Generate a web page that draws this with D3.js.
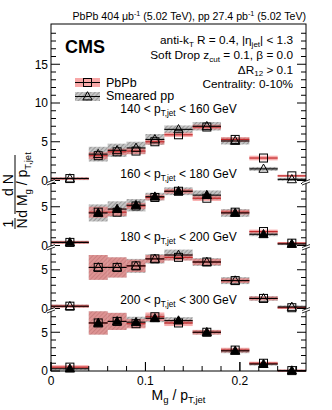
<!DOCTYPE html>
<html>
<head>
<meta charset="utf-8">
<script src="https://cdn.jsdelivr.net/npm/d3@7"></script>
<style>
  html, body { margin: 0; padding: 0; background: #fff; }
  svg { display: block; font-family: "Liberation Sans", Arial, Helvetica, sans-serif; }
  text { white-space: pre; }
</style>
</head>
<body>
<svg id="chart" width="332" height="410"></svg>
<script>
// --- data ---
const binEdges = [0, 0.04, 0.06, 0.08, 0.10, 0.12, 0.15, 0.18, 0.21, 0.24, 0.27];
const ptBins = [[140, 160], [160, 180], [180, 200], [200, 300]];

const pbpb140 = [0.25, 3.2, 3.7, 3.8, 5.0, 5.9, 6.9, 5.3, 2.9, 0.6];
const pp140   = [0.25, 3.4, 3.9, 4.2, 5.3, 6.6, 7.0, 5.1, 1.5, 0.15];
const pbpb160 = [0.4, 4.3, 4.3, 5.1, 6.2, 7.0, 6.1, 4.3, 1.8, 0.3];
const pp160   = [0.4, 4.2, 4.7, 5.2, 6.3, 7.0, 6.5, 4.2, 1.45, 0.2];
const pbpb180 = [0.3, 5.3, 5.3, 5.5, 6.4, 6.6, 6.0, 3.6, 1.3, 0.1];
const pp180   = [0.3, 5.3, 5.3, 5.5, 6.4, 6.9, 6.0, 3.6, 1.3, 0.2];
const pbpb200 = [0.5, 6.2, 6.4, 6.1, 7.0, 6.2, 5.0, 2.7, 1.0, 0.05];
const pp200   = [0.3, 6.2, 6.4, 6.3, 6.8, 6.5, 5.0, 2.6, 0.9, 0.05];

// systematic half heights
const pbpbSys140 = [0.15, 0.45, 0.4, 0.4, 0.35, 0.28, 0.3, 0.3, 0.3, 0.15];
const ppSys140   = [0.2, 0.95, 0.85, 0.8, 0.7, 0.5, 0.55, 0.45, 0.25, 0.2];
const pbpbSys160 = [0.2, 0.7, 0.5, 0.4, 0.35, 0.3, 0.35, 0.3, 0.25, 0.15];
const ppSys160   = [0.2, 1.1, 1.0, 0.8, 0.5, 0.5, 0.6, 0.5, 0.25, 0.15];
const pbpbSys180 = [0.2, 1.6, 1.3, 0.8, 0.5, 0.4, 0.4, 0.3, 0.25, 0.15];
const ppSys180   = [0.2, 1.6, 1.3, 0.9, 0.6, 0.7, 0.5, 0.45, 0.3, 0.2];
const pbpbSys200 = [0.25, 1.5, 1.1, 0.6, 0.55, 0.4, 0.3, 0.3, 0.2, 0.15];
const ppSys200   = [0.2, 1.5, 1.1, 0.7, 0.5, 0.45, 0.3, 0.3, 0.2, 0.15];

const xTicks = [0, 0.1, 0.2];

const panels = [
  { pt: ptBins[0], pbpb: pbpb140, pp: pp140, pbpbSys: pbpbSys140, ppSys: ppSys140, filled: false },
  { pt: ptBins[1], pbpb: pbpb160, pp: pp160, pbpbSys: pbpbSys160, ppSys: ppSys160, filled: true },
  { pt: ptBins[2], pbpb: pbpb180, pp: pp180, pbpbSys: pbpbSys180, ppSys: ppSys180, filled: false },
  { pt: ptBins[3], pbpb: pbpb200, pp: pp200, pbpbSys: pbpbSys200, ppSys: ppSys200, filled: true }
];

// --- layout ---
const plotLeft = 51, plotRight = 306, frameTop = 24;
const zeros = [180.5, 245.5, 308.5, 371];   // pixel row of each panel's 0
const pxPerUnit = 7.75;
const red = "#f36c6c", redLine = "#c0282a";

const svg = d3.select("#chart");
const x = d3.scaleLinear().domain([0, 0.27]).range([plotLeft, plotRight]);

// hatch for smeared pp
const defs = svg.append("defs");
const pat = defs.append("pattern").attr("id", "hatch").attr("patternUnits", "userSpaceOnUse")
  .attr("width", 3).attr("height", 3).attr("patternTransform", "rotate(45)");
pat.append("rect").attr("width", 3).attr("height", 3).attr("fill", "#b0b0b0");
pat.append("line").attr("x1", 0).attr("y1", 0).attr("x2", 0).attr("y2", 3)
  .attr("stroke", "#505050").attr("stroke-width", 1.2);

// text with sub/superscripts
function richText(g, px, py, parts, size, anchor) {
  const t = g.append("text").attr("x", px).attr("y", py)
    .attr("font-size", size).attr("text-anchor", anchor || "start");
  let shift = 0;
  parts.forEach(p => {
    let s = 0, txt = p, fs = size;
    if (typeof p === "object") {
      if (p.sub !== undefined) { txt = p.sub; s = 0.25 * size; }
      else { txt = p.sup; s = -0.4 * size; }
      fs = size * 0.68;
    }
    t.append("tspan").attr("dy", s - shift).attr("font-size", fs).text(txt);
    shift = s;
  });
  return t;
}

const trianglePath = "M0,-4.8L4.6,3.4L-4.6,3.4Z";

const plot = svg.append("g");

panels.forEach((p, i) => {
  const zero = zeros[i];
  const panelTop = i === 0 ? frameTop : zeros[i - 1];
  const y = d3.scaleLinear().domain([0, 1]).range([zero, zero - pxPerUnit]);
  const bins = d3.range(binEdges.length - 1).map(k => ({
    x0: binEdges[k], x1: binEdges[k + 1],
    pb: p.pbpb[k], pp: p.pp[k], pbS: p.pbpbSys[k], ppS: p.ppSys[k]
  }));
  const g = plot.append("g");

  // pp systematics (hatched)
  g.selectAll(".ppsys").data(bins).enter().append("rect")
    .attr("x", d => x(d.x0)).attr("width", d => x(d.x1) - x(d.x0))
    .attr("y", d => y(d.pp + d.ppS)).attr("height", d => y(d.pp - d.ppS) - y(d.pp + d.ppS))
    .attr("fill", "url(#hatch)").attr("opacity", 0.75);
  // PbPb systematics
  g.selectAll(".pbsys").data(bins).enter().append("rect")
    .attr("x", d => x(d.x0)).attr("width", d => x(d.x1) - x(d.x0))
    .attr("y", d => y(d.pb + d.pbS)).attr("height", d => y(d.pb - d.pbS) - y(d.pb + d.pbS))
    .attr("fill", red).attr("opacity", 0.55);

  // horizontal bin-width bars
  g.selectAll(".pbline").data(bins).enter().append("line")
    .attr("x1", d => x(d.x0)).attr("x2", d => x(d.x1))
    .attr("y1", d => y(d.pb)).attr("y2", d => y(d.pb))
    .attr("stroke", redLine).attr("stroke-width", 1.2);
  g.selectAll(".ppline").data(bins).enter().append("line")
    .attr("x1", d => x(d.x0)).attr("x2", d => x(d.x1))
    .attr("y1", d => y(d.pp)).attr("y2", d => y(d.pp))
    .attr("stroke", "#000").attr("stroke-width", 1.1);

  // markers
  bins.forEach(d => {
    const cx = x((d.x0 + d.x1) / 2);
    g.append("rect").attr("x", cx - 4).attr("y", y(d.pb) - 4).attr("width", 8).attr("height", 8)
      .attr("fill", "none").attr("stroke", "#000").attr("stroke-width", 1);
    g.append("path").attr("d", trianglePath).attr("transform", `translate(${cx},${y(d.pp)})`)
      .attr("fill", p.filled ? "#000" : "none").attr("stroke", "#000").attr("stroke-width", 1);
  });

  // y ticks on both sides
  const maxV = (zero - panelTop) / pxPerUnit;
  const ticks = d3.range(0, Math.floor(maxV - 0.3) + 1);
  ticks.forEach(v => {
    const major = v % 5 === 0;
    const len = major ? 9 : 5;
    plot.append("line").attr("x1", plotLeft).attr("x2", plotLeft + len).attr("y1", y(v)).attr("y2", y(v))
      .attr("stroke", "#000").attr("stroke-width", 1);
    plot.append("line").attr("x1", plotRight).attr("x2", plotRight - len).attr("y1", y(v)).attr("y2", y(v))
      .attr("stroke", "#000").attr("stroke-width", 1);
    if (major) {
      plot.append("text").attr("x", plotLeft - 3).attr("y", y(v) + 4.3)
        .attr("text-anchor", "end").attr("font-size", 12).text(v);
    }
  });

  // pT label
  richText(plot, 178.5, zero - 67.5,
    [`${p.pt[0]} < p`, { sub: "T,jet" }, ` < ${p.pt[1]} GeV`], 12, "middle");
});

// frame
plot.append("rect").attr("x", plotLeft).attr("y", frameTop)
  .attr("width", plotRight - plotLeft).attr("height", zeros[3] - frameTop)
  .attr("fill", "none").attr("stroke", "#000").attr("stroke-width", 1);

// axis break marks at panel joins
zeros.slice(0, 3).forEach(z => {
  [plotLeft, plotRight].forEach(ax => {
    plot.append("path").attr("d", `M${ax - 4},${z + 2}L${ax + 4},${z - 1}L${ax + 4},${z + 1.5}L${ax - 4},${z + 4.5}Z`)
      .attr("fill", "#fff");
    plot.append("line").attr("x1", ax - 4).attr("y1", z + 2).attr("x2", ax + 4).attr("y2", z - 1)
      .attr("stroke", "#000").attr("stroke-width", 0.8);
    plot.append("line").attr("x1", ax - 4).attr("y1", z + 4.5).attr("x2", ax + 4).attr("y2", z + 1.5)
      .attr("stroke", "#000").attr("stroke-width", 0.8);
  });
});

// x axis ticks
const xAxis = plot.append("g");
d3.range(0, 0.2701, 0.02).concat(xTicks).forEach(v => {
  const major = xTicks.some(t => Math.abs(t - v) < 1e-6);
  const len = major ? 9 : 5;
  xAxis.append("line").attr("x1", x(v)).attr("x2", x(v)).attr("y1", zeros[3]).attr("y2", zeros[3] - len)
    .attr("stroke", "#000").attr("stroke-width", 1);
});
xTicks.forEach(v => {
  xAxis.append("text").attr("x", x(v)).attr("y", 384.5).attr("text-anchor", "middle")
    .attr("font-size", 12).text(v === 0 ? "0" : d3.format(".1f")(v));
});

// axis titles
richText(svg, 178.5, 399.5, ["M", { sub: "g" }, " / p", { sub: "T,jet" }], 14, "middle");

const yt = svg.append("g").attr("transform", "translate(15,0) rotate(-90)");
yt.append("line").attr("x1", -229).attr("x2", -218).attr("y1", 0).attr("y2", 0).attr("stroke", "#000");
yt.append("text").attr("x", -223.5).attr("y", -2).attr("text-anchor", "middle").attr("font-size", 14).text("1");
yt.append("text").attr("x", -223.5).attr("y", 12).attr("text-anchor", "middle").attr("font-size", 14).text("N");
yt.append("line").attr("x1", -214).attr("x2", -155).attr("y1", 0).attr("y2", 0).attr("stroke", "#000");
yt.append("text").attr("x", -185).attr("y", -2).attr("text-anchor", "middle").attr("font-size", 14).text("d N");
richText(yt, -185, 12, ["d M", { sub: "g" }, " / p", { sub: "T,jet" }], 14, "middle");

// header and labels
richText(svg, plotRight, 20, ["PbPb 404 \u03bcb", { sup: "-1" }, " (5.02 TeV), pp 27.4 pb", { sup: "-1" }, " (5.02 TeV)"], 10.6, "end");
svg.append("text").attr("x", 65).attr("y", 52.5).attr("font-size", 18).attr("font-weight", "bold").text("CMS");
richText(svg, 293, 44, ["anti-k", { sub: "T" }, " R = 0.4, |\u03b7", { sub: "jet" }, "| < 1.3"], 11.8, "end");
richText(svg, 293, 59, ["Soft Drop z", { sub: "cut" }, " = 0.1, \u03b2 = 0.0"], 11.8, "end");
richText(svg, 293, 73.5, ["\u0394R", { sub: "12" }, " > 0.1"], 11.8, "end");
richText(svg, 293, 88, ["Centrality: 0-10%"], 11.8, "end");

// legend
const leg = svg.append("g");
leg.append("rect").attr("x", 75).attr("y", 78).attr("width", 25).attr("height", 9).attr("fill", red).attr("opacity", 0.6);
leg.append("line").attr("x1", 75).attr("x2", 100).attr("y1", 82.5).attr("y2", 82.5).attr("stroke", "#000");
leg.append("rect").attr("x", 83.5).attr("y", 78.5).attr("width", 8).attr("height", 8)
  .attr("fill", "none").attr("stroke", "#000");
leg.append("text").attr("x", 106).attr("y", 87).attr("font-size", 12.5).text("PbPb");
leg.append("rect").attr("x", 75).attr("y", 92).attr("width", 25).attr("height", 9).attr("fill", "url(#hatch)").attr("opacity", 0.75);
leg.append("line").attr("x1", 75).attr("x2", 100).attr("y1", 96.5).attr("y2", 96.5).attr("stroke", "#000");
leg.append("path").attr("d", trianglePath).attr("transform", "translate(87.5,96.5)")
  .attr("fill", "none").attr("stroke", "#000");
leg.append("text").attr("x", 106).attr("y", 100).attr("font-size", 12.5).text("Smeared pp");
</script>
</body>
</html>
